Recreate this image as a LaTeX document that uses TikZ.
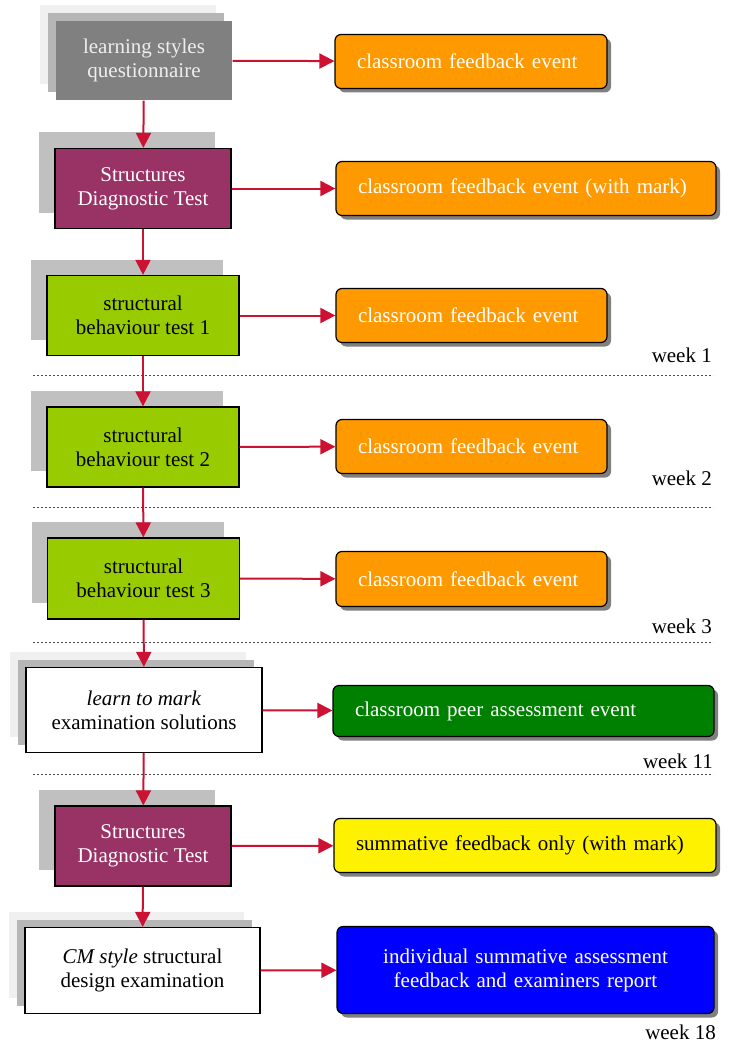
\documentclass[tikz,border=0pt]{standalone}
\usepackage{fontspec}
\setmainfont{Liberation Serif}
\usetikzlibrary{arrows.meta,shadows}
\definecolor{arrowred}{HTML}{CC1133}
\definecolor{plum}{HTML}{993366}
\definecolor{lime}{HTML}{99CC00}
\definecolor{orng}{HTML}{FF9900}
\definecolor{dgreen}{HTML}{008000}
\definecolor{shlight}{HTML}{F0F0F0}
\definecolor{shmid}{HTML}{B6B6B6}
\definecolor{shone}{HTML}{C0C0C0}
\definecolor{qgray}{HTML}{808080}
\definecolor{qtext}{HTML}{EEEEEE}
\begin{document}
\begin{tikzpicture}[x=1pt,y=-1pt,
  font=\fontsize{21}{24}\selectfont,
  stepbox/.style={rectangle, draw=black, line width=1.2pt, align=center, inner sep=0pt},
  twoshadow/.style={general shadow={fill=shlight, shadow xshift=-16pt, shadow yshift=16pt},
                    general shadow={fill=shmid, shadow xshift=-8pt, shadow yshift=8pt}},
  oneshadow/.style={general shadow={fill=shone, shadow xshift=-16pt, shadow yshift=16pt}},
  evbox/.style={rectangle, rounded corners=6pt, draw=black, line width=1.2pt,
                drop shadow={shadow xshift=4pt, shadow yshift=-4pt, fill=black!50, opacity=1},
                inner xsep=22pt, inner ysep=0pt, align=left},
  conn/.style={draw=arrowred, line width=2pt, -{Triangle[length=15pt,width=15pt]}},
  sep/.style={draw=black!70, line width=0.9pt, dash pattern=on 2pt off 2pt},
  weeklbl/.style={anchor=base east, inner sep=0pt}
]
\useasboundingbox (0,0) rectangle (729,1043);

% left column
\node[stepbox, draw=none, fill=qgray, text=qtext, twoshadow, minimum width=176pt, minimum height=79pt]
  (lsq) at (144,60.5) {learning styles\\questionnaire};
\node[stepbox, fill=plum, text=white, oneshadow, minimum width=176pt, minimum height=80pt]
  (sdta) at (143,188.5) {Structures\\Diagnostic Test};
\node[stepbox, fill=lime, oneshadow, minimum width=192pt, minimum height=80pt]
  (sbta) at (143,315.5) {structural\\behaviour test 1};
\node[stepbox, fill=lime, oneshadow, minimum width=192pt, minimum height=80pt]
  (sbtb) at (143,447) {structural\\behaviour test 2};
\node[stepbox, fill=lime, oneshadow, minimum width=192pt, minimum height=81pt]
  (sbtc) at (143.5,578.5) {structural\\behaviour test 3};
\node[stepbox, fill=white, twoshadow, minimum width=236pt, minimum height=85pt]
  (ltm) at (144,710) {\textit{learn to mark}\\examination solutions};
\node[stepbox, fill=plum, text=white, oneshadow, minimum width=176pt, minimum height=80pt]
  (sdtb) at (143,846) {Structures\\Diagnostic Test};
\node[stepbox, fill=white, twoshadow, minimum width=235pt, minimum height=86pt]
  (cm) at (142.5,970.5) {\textit{CM style} structural\\design examination};

% right column
\node[evbox, fill=orng, text=white, text width=228pt, minimum height=54pt]
  (ra) at (471,61.5) {classroom feedback event};
\node[evbox, fill=orng, text=white, text width=336pt, minimum height=54pt]
  (rb) at (526,188.5) {classroom feedback event (with mark)};
\node[evbox, fill=orng, text=white, text width=227pt, minimum height=54pt]
  (rc) at (471.5,315.5) {classroom feedback event};
\node[evbox, fill=orng, text=white, text width=227pt, minimum height=54pt]
  (rd) at (471.5,446.5) {classroom feedback event};
\node[evbox, fill=orng, text=white, text width=227pt, minimum height=55pt]
  (re) at (471.5,579) {classroom feedback event};
\node[evbox, fill=dgreen, text=white, text width=337pt, minimum height=51pt]
  (rf) at (523.5,711) {classroom peer assessment event};
\node[evbox, fill=yellow, text=black, text width=338pt, minimum height=54pt]
  (rg) at (525,845.5) {summative feedback only (with mark)};
\node[evbox, fill=blue, text=white, align=center, text width=333pt, minimum height=87pt]
  (rh) at (525.5,970) {individual summative assessment\\feedback and examiners report};

% vertical connectors
\draw[conn] (lsq) -- (sdta);
\draw[conn] (sdta) -- (sbta);
\draw[conn] (sbta) -- (sbtb);
\draw[conn] (sbtb) -- (sbtc);
\draw[conn] (sbtc) -- (ltm);
\draw[conn] (ltm) -- (sdtb);
\draw[conn] (sdtb) -- (cm);

% horizontal connectors
\draw[conn] (lsq) -- (ra);
\draw[conn] (sdta) -- (rb);
\draw[conn] (sbta) -- (rc);
\draw[conn] (sbtb) -- (rd);
\draw[conn] (sbtc) -- (re);
\draw[conn] (ltm) -- (rf);
\draw[conn] (sdtb) -- (rg);
\draw[conn] (cm) -- (rh);

% week separators
\draw[sep] (33,375) -- (713,375);
\draw[sep] (33,507) -- (713,507);
\draw[sep] (33,642) -- (713,642);
\draw[sep] (33,774) -- (713,774);

\node[weeklbl] (wa) at (712,362) {week 1};
\node[weeklbl] (wb) at (712,485) {week 2};
\node[weeklbl] (wc) at (712,633) {week 3};
\node[weeklbl] (wd) at (713,768) {week 11};
\node[weeklbl] (we) at (716,1039) {week 18};
\end{tikzpicture}
\end{document}
